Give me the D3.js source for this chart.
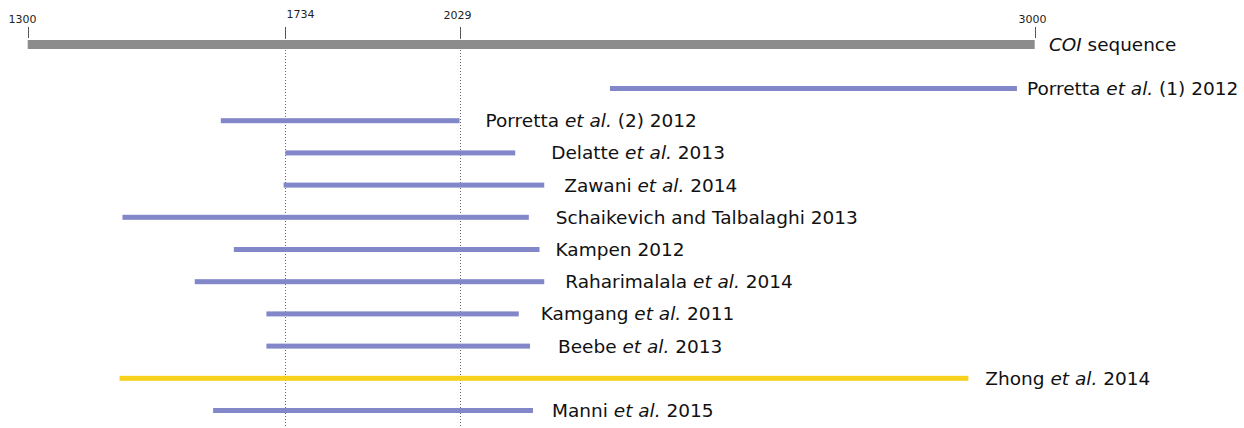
<!DOCTYPE html>
<html lang="en">
<head>
<meta charset="UTF-8">
<title>COI fragments</title>
<script src="https://cdn.jsdelivr.net/npm/d3@7/dist/d3.min.js"></script>
<style>
    body { margin: 0; background: #fff; }
    svg { display: block; font-family: "DejaVu Sans", sans-serif; }
</style>
</head>
<body>
<svg class="chart"></svg>
<script>
    // studies, top to bottom
    var studies = [
        "Porretta et al. (1) 2012",
        "Porretta et al. (2) 2012",
        "Delatte et al. 2013",
        "Zawani et al. 2014",
        "Schaikevich and Talbalaghi 2013",
        "Kampen 2012",
        "Raharimalala et al. 2014",
        "Kamgang et al. 2011",
        "Beebe et al. 2013",
        "Zhong et al. 2014",
        "Manni et al. 2015"
    ];
    // fragment start / end on the COI sequence
    var starts = [2283, 1626, 1735, 1732, 1460, 1648, 1582, 1703, 1703, 1455, 1613];
    var ends   = [2970, 2029, 2123, 2172, 2146, 2164, 2172, 2129, 2148, 2888, 2153];
    var highlight = [false, false, false, false, false, false, false, false, false, true, false];

    var seqRange = [1300, 3000];
    var markTicks = [1300, 1734, 2029, 3000];
    var guideTicks = [1734, 2029];

    var width = 1244, height = 428;
    var svg = d3.select('.chart').attr('width', width).attr('height', height);

    var x = d3.scaleLinear().domain(seqRange).range([27.7, 1034.7]);
    var y = d3.scalePoint().domain(studies).range([88.5, 410.5]);

    // gap between bar end and its label (px)
    var labelGap = [10, 26, 36, 20, 27, 16, 21, 22, 28, 17, 19];
    // tick label nudges (px) as placed in the original
    var tickShift = [-6, 15, -3, -3];
    var tickBase = [23, 18, 19, 23];

    // dotted guide lines
    svg.append('g').selectAll('line')
        .data(guideTicks)
        .enter().append('line')
        .attr('x1', function (d) { return Math.round(x(d)) + 0.5; })
        .attr('x2', function (d) { return Math.round(x(d)) + 0.5; })
        .attr('y1', 38).attr('y2', height)
        .attr('stroke', '#666')
        .attr('stroke-width', 1)
        .attr('stroke-dasharray', '1,2');

    // sequence bar
    svg.append('rect')
        .attr('x', x(seqRange[0]))
        .attr('y', 40)
        .attr('width', x(seqRange[1]) - x(seqRange[0]))
        .attr('height', 9)
        .attr('fill', '#8c8c8c');

    // tick marks
    var ticks = svg.append('g').selectAll('g')
        .data(markTicks)
        .enter().append('g')
        .attr('transform', function (d) { return 'translate(' + (Math.round(x(d)) + 0.5) + ',0)'; });
    ticks.append('line')
        .attr('y1', 27).attr('y2', 38)
        .attr('stroke', '#555').attr('stroke-width', 1);
    ticks.append('text')
        .attr('x', function (d, i) { return tickShift[i]; })
        .attr('y', function (d, i) { return tickBase[i]; })
        .attr('text-anchor', 'middle')
        .attr('font-size', 11)
        .attr('fill', '#222')
        .text(function (d) { return d; });

    var seqLabel = svg.append('text')
        .attr('x', 1049).attr('y', 45)
        .attr('dy', '0.35em')
        .attr('font-size', 18.4)
        .attr('fill', '#111');
    seqLabel.append('tspan').attr('font-style', 'italic').text('COI');
    seqLabel.append('tspan').text(' sequence');

    // fragment bars
    var rows = svg.append('g').selectAll('g')
        .data(studies)
        .enter().append('g');

    rows.append('rect')
        .attr('x', function (d, i) { return x(starts[i]); })
        .attr('y', function (d) { return y(d) - 2.5; })
        .attr('width', function (d, i) { return x(ends[i]) - x(starts[i]); })
        .attr('height', 5)
        .attr('fill', function (d, i) { return highlight[i] ? '#f8d11c' : '#8187c8'; });

    rows.append('text')
        .attr('x', function (d, i) { return x(ends[i]) + labelGap[i]; })
        .attr('y', function (d) { return y(d); })
        .attr('dy', '0.35em')
        .attr('font-size', 18.5)
        .attr('fill', '#111')
        .each(function (d) {
            var t = d3.select(this);
            var parts = d.split('et al.');
            t.append('tspan').text(parts[0]);
            if (parts.length > 1) {
                t.append('tspan').attr('font-style', 'italic').text('et al.');
                t.append('tspan').text(parts[1]);
            }
        });
</script>
</body>
</html>
